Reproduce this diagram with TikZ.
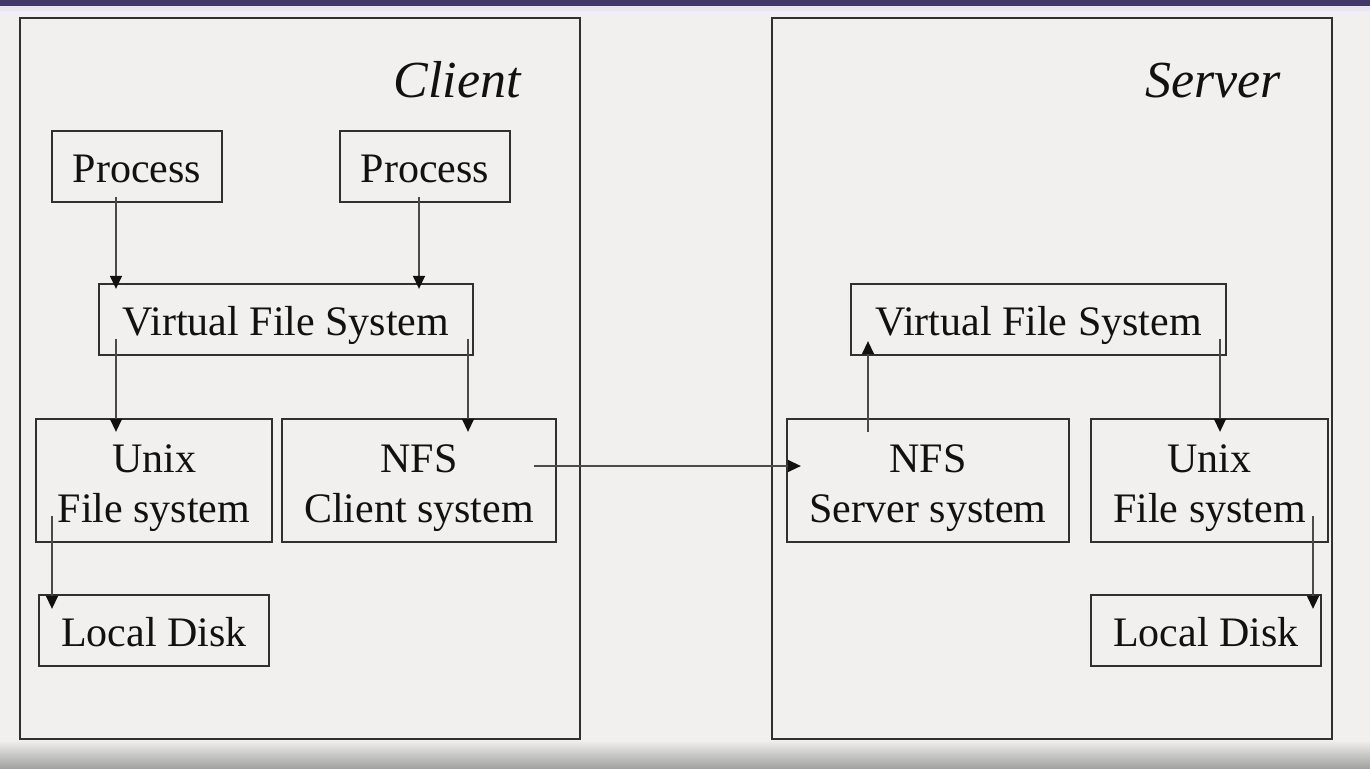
\documentclass[tikz,border=0pt]{standalone}
\usepackage{fontspec}
\setmainfont{Liberation Serif}
\usetikzlibrary{arrows.meta,calc}
\definecolor{bgc}{HTML}{F1F0EE}
\definecolor{barc}{HTML}{41366A}
\definecolor{stripc}{HTML}{E9E6F0}
\definecolor{boxc}{HTML}{303030}
\definecolor{arrc}{HTML}{4A4A4A}
\definecolor{tipc}{HTML}{111111}
\definecolor{txtc}{HTML}{111111}
\definecolor{shadec}{HTML}{A2A2A2}
\begin{document}
\begin{tikzpicture}[x=1pt,y=-1pt,
  box/.style={draw=boxc, line width=2.3pt, inner sep=0pt, minimum height=71pt,
    text=txtc, font=\fontsize{42}{50}\selectfont, align=center,
    text height=32pt, text depth=0pt},
  tallbox/.style={box, minimum height=123pt, text height=84pt, text depth=0pt},
  outerbox/.style={draw=boxc, line width=2.5pt, inner sep=0pt},
  title/.style={text=txtc, font=\fontsize{52}{60}\selectfont\itshape, inner sep=0pt},
  arr/.style={draw=arrc, line width=1.4pt, -{Triangle[width=12pt,length=13pt,fill=tipc,color=tipc]}}]
\useasboundingbox (0,0) rectangle (1370,768);
\fill[bgc] (0,0) rectangle (1370,768);
\fill[stripc] (0,6) rectangle (1370,11);
\fill[barc] (0,0) rectangle (1370,6);
\shade[top color=bgc, bottom color=shadec] (0,740) rectangle (1370,768);
% outer frames
\node[outerbox, minimum width=560pt, minimum height=721pt] (client) at (300,378.5) {};
\node[outerbox, minimum width=560pt, minimum height=721pt] (server) at (1052,378.5) {};
\node[title, anchor=base east] (clab) at (521,97) {Client};
\node[title, anchor=base east] (slab) at (1281,97) {Server};
% client side
\node[box, minimum width=170pt] (p1) at (137,166.5) {Process};
\node[box, minimum width=170pt] (p2) at (425,166.5) {Process};
\node[box, minimum width=374pt] (vfs1) at (286,319.5) {Virtual File System};
\node[tallbox, minimum width=236pt] (ufs1) at (154,480.5) {Unix\\File system};
\node[tallbox, minimum width=274pt] (nfsc) at (419,480.5) {NFS\\Client system};
\node[box, minimum width=230pt] (ld1) at (154,630.5) {Local Disk};
% server side
\node[box, minimum width=375pt] (vfs2) at (1038.5,319.5) {Virtual File System};
\node[tallbox, minimum width=282pt] (nfss) at (928,480.5) {NFS\\Server system};
\node[tallbox, minimum width=237pt] (ufs2) at (1209.5,480.5) {Unix\\File system};
\node[box, minimum width=230pt] (ld2) at (1206,630.5) {Local Disk};
% connectors
\draw[arr] ($(p1.south)+(-21,-6)$) -- ($(p1.south |- vfs1.north)+(-21,6)$);
\draw[arr] ($(p2.south)+(-6,-6)$) -- ($(p2.south |- vfs1.north)+(-6,6)$);
\draw[arr] ($(ufs1.north |- vfs1.south)+(-38,-17)$) -- ($(ufs1.north)+(-38,14)$);
\draw[arr] ($(nfsc.north |- vfs1.south)+(49,-17)$) -- ($(nfsc.north)+(49,14)$);
\draw[arr] ($(ld1.north |- ufs1.south)+(-102,-27)$) -- ($(ld1.north)+(-102,15)$);
\draw[arr] ($(nfsc.east)+(-23,-14.5)$) -- ($(nfss.west |- nfsc.east)+(15,-14.5)$);
\draw[arr] ($(nfss.north)+(-60,14)$) -- ($(nfss.north |- vfs2.south)+(-60,-15)$);
\draw[arr] ($(ufs2.north |- vfs2.south)+(10.5,-17)$) -- ($(ufs2.north)+(10.5,14)$);
\draw[arr] ($(ld2.north |- ufs2.south)+(107,-27)$) -- ($(ld2.north)+(107,15)$);
\end{tikzpicture}
\end{document}
